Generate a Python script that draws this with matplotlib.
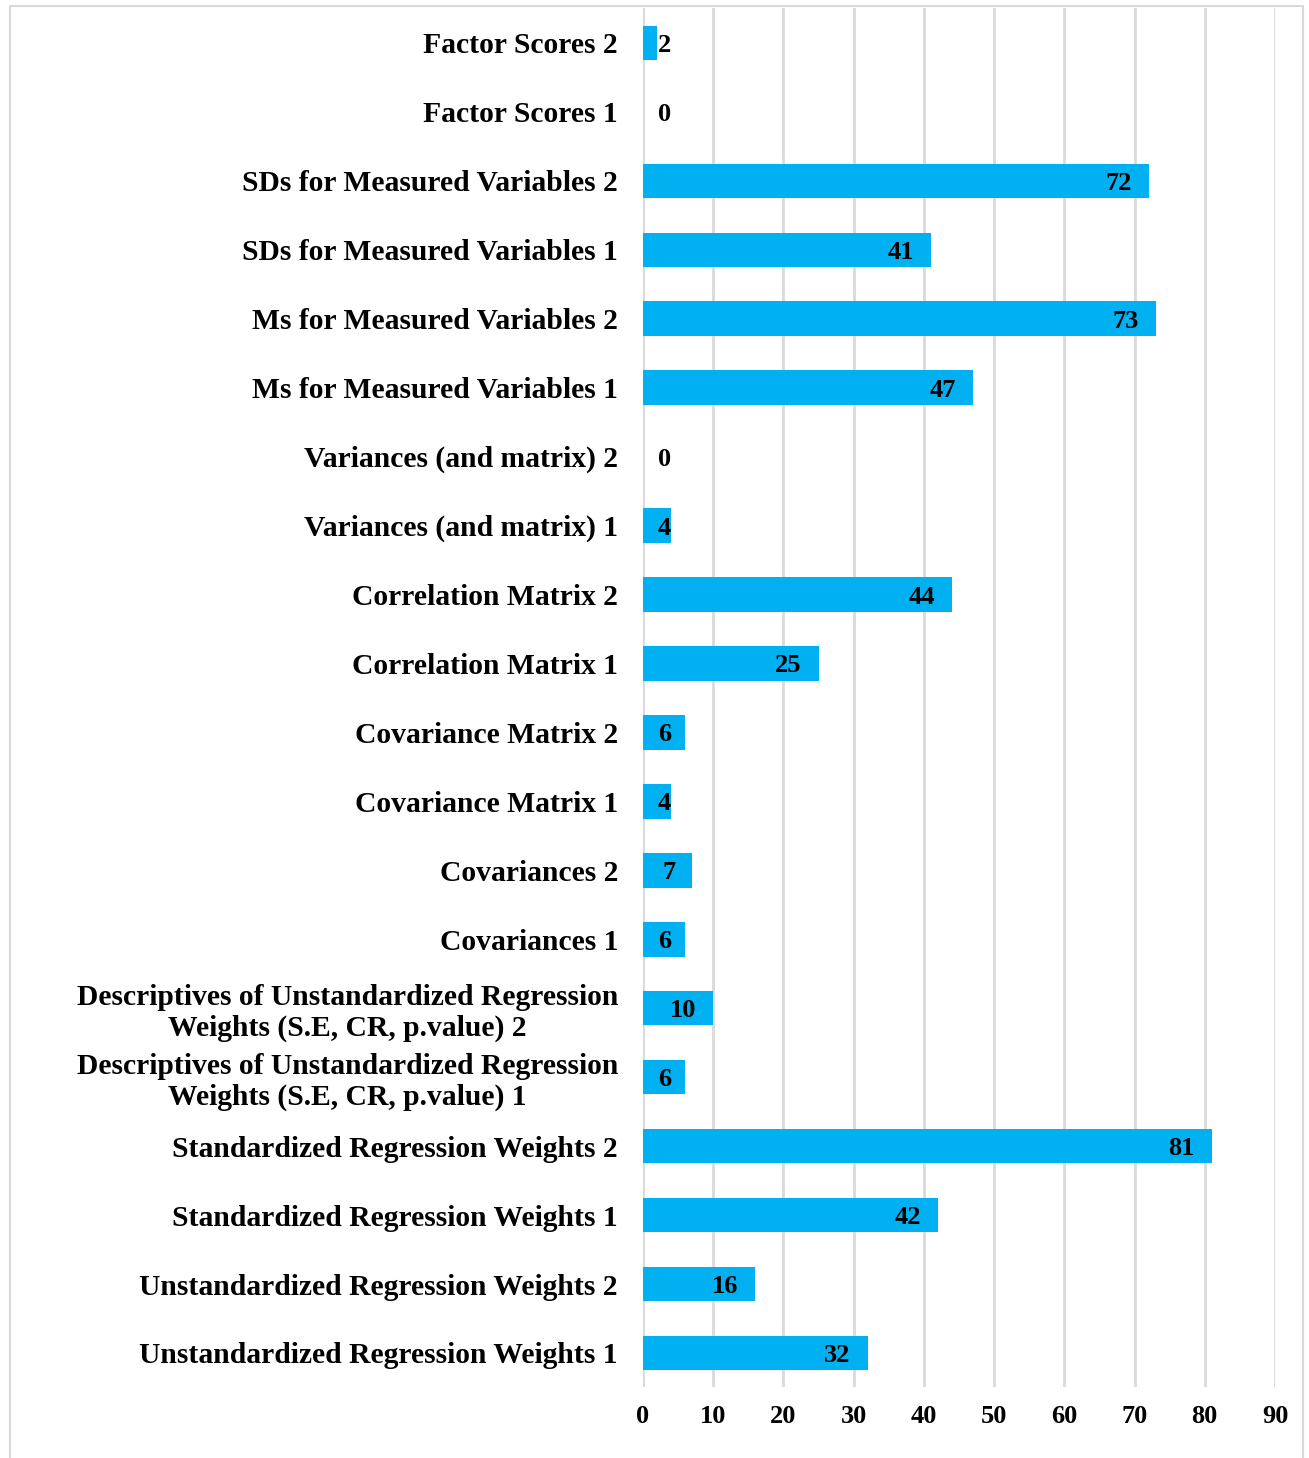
import matplotlib.pyplot as plt
from matplotlib.patches import Rectangle

# Categories listed bottom to top, as drawn on the y axis
categories = [
    "Unstandardized Regression Weights 1",
    "Unstandardized Regression Weights 2",
    "Standardized Regression Weights 1",
    "Standardized Regression Weights 2",
    "Descriptives of Unstandardized Regression\nWeights (S.E, CR, p.value) 1",
    "Descriptives of Unstandardized Regression\nWeights (S.E, CR, p.value) 2",
    "Covariances 1",
    "Covariances 2",
    "Covariance Matrix 1",
    "Covariance Matrix 2",
    "Correlation Matrix 1",
    "Correlation Matrix 2",
    "Variances (and matrix) 1",
    "Variances (and matrix) 2",
    "Ms for Measured Variables 1",
    "Ms for Measured Variables 2",
    "SDs for Measured Variables 1",
    "SDs for Measured Variables 2",
    "Factor Scores 1",
    "Factor Scores 2",
]
values = [32, 16, 42, 81, 6, 10, 6, 7, 4, 6, 25, 44, 4, 0, 47, 73, 41, 72, 0, 2]
x_ticks = [0, 10, 20, 30, 40, 50, 60, 70, 80, 90]

plt.rcParams['font.family'] = ['Liberation Serif', 'DejaVu Serif']
plt.rcParams['font.weight'] = 'bold'

fig = plt.figure(figsize=(13.09, 14.58), dpi=100)
ax = fig.add_axes([0.4912, 0.0484, 0.4828, 0.9458])

# Light grey frame around the whole chart
fig.patches.append(Rectangle((0.0076, -0.01), 0.988, 1.006, transform=fig.transFigure,
                             fill=False, edgecolor='#d9d9d9', lw=1.5))

ypos = list(range(len(categories)))
ax.barh(ypos, values, height=0.5, color='#00B0F0', zorder=3)

# Value labels at the inside end of each bar, pushed right when the bar is short
for y, v in zip(ypos, values):
    label = str(v)
    if v * 7.02 < 32 + 11 * len(label):
        ax.annotate(label, (0, y), xytext=(15, 0), textcoords='offset pixels',
                    ha='left', va='center_baseline', fontsize=19, fontweight='bold', zorder=4)
    else:
        ax.annotate(label, (v, y), xytext=(-17, 0), textcoords='offset pixels',
                    ha='right', va='center_baseline', fontsize=19, fontweight='bold', zorder=4)

ax.set_xlim(0, 90)
ax.set_ylim(-0.5, len(categories) - 0.5)
ax.set_xticks(x_ticks)
ax.set_yticks(ypos)
ax.set_yticklabels(categories, fontsize=21.3, fontweight='bold',
                   multialignment='center', linespacing=1.15)
ax.tick_params(axis='y', length=0, pad=18)
ax.tick_params(axis='x', length=0, pad=13, labelsize=19)
for lbl in ax.get_xticklabels():
    lbl.set_fontweight('bold')

ax.grid(axis='x', color='#d9d9d9', lw=2, zorder=0)
for side in ['top', 'right', 'bottom', 'left']:
    ax.spines[side].set_visible(False)

plt.savefig("out.png", dpi=100)
